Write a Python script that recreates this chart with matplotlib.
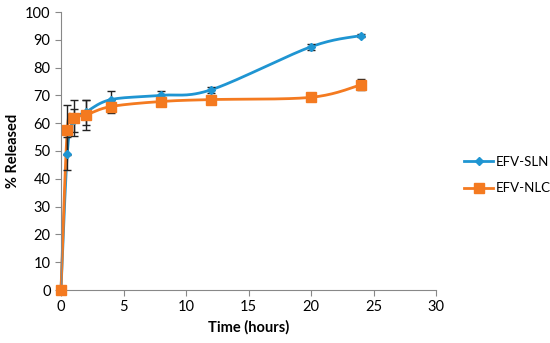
import numpy as np
import matplotlib
matplotlib.use("Agg")
import matplotlib.pyplot as plt
from matplotlib.lines import Line2D

time = [0, 0.5, 1, 2, 4, 8, 12, 20, 24]
sln = [0, 49, 61, 64, 68.5, 70, 72, 87.5, 91.5]
sln_err = [0, 6, 4, 4.5, 3, 1.5, 1, 1, 0.5]
nlc = [0, 57.5, 62, 63, 66, 67.8, 68.5, 69.3, 73.8]
nlc_err = [0, 9, 6.5, 5.5, 2.5, 0.5, 0.5, 1, 2]
labels = ["EFV-SLN", "EFV-NLC"]
colors = ["#1f95d2", "#f47a20"]


def smooth(x, y, n=30):
    x = np.asarray(x, float); y = np.asarray(y, float)
    px = np.concatenate([[x[0]], x, [x[-1]]])
    py = np.concatenate([[y[0]], y, [y[-1]]])
    xs, ys = [], []
    for i in range(1, len(px) - 2):
        p0x, p1x, p2x, p3x = px[i-1], px[i], px[i+1], px[i+2]
        p0y, p1y, p2y, p3y = py[i-1], py[i], py[i+1], py[i+2]
        t = np.linspace(0, 1, n)
        k = 1 / 3
        c1x = p1x + (p2x - p0x) * k / 2; c1y = p1y + (p2y - p0y) * k / 2
        c2x = p2x - (p3x - p1x) * k / 2; c2y = p2y - (p3y - p1y) * k / 2
        bx = (1-t)**3*p1x + 3*(1-t)**2*t*c1x + 3*(1-t)*t**2*c2x + t**3*p2x
        by = (1-t)**3*p1y + 3*(1-t)**2*t*c1y + 3*(1-t)*t**2*c2y + t**3*p2y
        xs.append(bx); ys.append(by)
    return np.concatenate(xs), np.concatenate(ys)


plt.rcParams['font.family'] = ['Lato', 'DejaVu Sans']
fig = plt.figure(figsize=(5.5, 3.43), dpi=100)
ax = fig.add_axes([61/550, 1-290/343, 375/550, 278/343])

markers = ['D', 's']
sizes = [4, 6.5]
for yv, err, c, m, ms, lab in zip([sln, nlc], [sln_err, nlc_err], colors, markers, sizes, labels):
    sx, sy = smooth(time, yv)
    ax.plot(sx, sy, color=c, lw=2, zorder=2, clip_on=False)
    ax.errorbar(time, yv, yerr=err, fmt='none', ecolor='#222222', elinewidth=1, capsize=3, capthick=1, zorder=3)
    ax.plot(time, yv, ls='none', marker=m, ms=ms, color=c, zorder=4, clip_on=False)

ax.set_xlim(0, 30)
ax.set_ylim(0, 100)
ax.set_xticks(range(0, 31, 5))
ax.set_yticks(range(0, 101, 10))
for s in ['top', 'right']:
    ax.spines[s].set_visible(False)
for s in ['left', 'bottom']:
    ax.spines[s].set_color('#888888')
ax.tick_params(colors='#888888', labelcolor='black', labelsize=10.5, length=4)
ax.set_xlabel('Time (hours)', fontsize=10.5, fontweight='bold')
ax.set_ylabel('% Released', fontsize=10.5, fontweight='bold')

handles = [Line2D([], [], color=c, lw=2, marker=m, ms=ms) for c, m, ms in zip(colors, markers, sizes)]
fig.legend(handles, labels, loc='center left', bbox_to_anchor=(464/550, 1-175/343), frameon=False,
           fontsize=9.5, handlelength=2.2, labelspacing=1.1, handletextpad=0.2,
           borderpad=0, borderaxespad=0)

fig.savefig('out.png', dpi=100)
